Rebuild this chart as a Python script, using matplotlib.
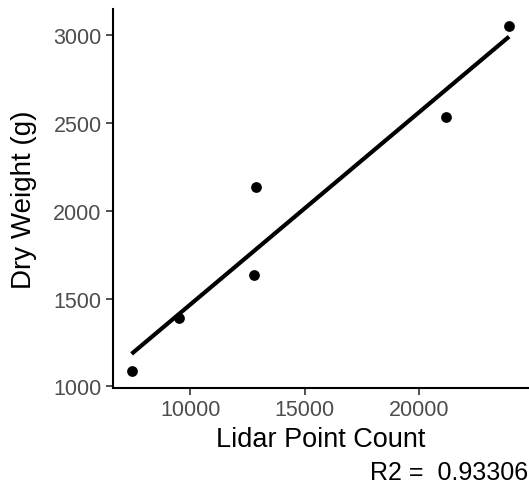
import matplotlib.pyplot as plt
import numpy as np

# data
point_count = [7430, 9510, 12780, 12890, 21200, 23940]
dry_weight = [1088, 1390, 1632, 2138, 2537, 3053]
x_ticks = [10000, 15000, 20000]
y_ticks = [1000, 1500, 2000, 2500, 3000]
r2_label = "R2 =  0.93306"

plt.rcParams['font.family'] = ['Liberation Sans', 'DejaVu Sans']

x = np.array(point_count, dtype=float)
y = np.array(dry_weight, dtype=float)

fig = plt.figure(figsize=(5.29, 4.89), dpi=100)
ax = fig.add_axes([0.213, 0.204, 0.785, 0.776])

# linear fit, like geom_smooth(method = "lm", se = FALSE)
slope, intercept = np.polyfit(x, y, 1)
xs = np.linspace(x.min(), x.max(), 50)
ax.plot(xs, slope * xs + intercept, color='black', lw=3.0, solid_capstyle='butt')
ax.scatter(x, y, s=60, color='black', zorder=3, linewidths=0)

# ggplot style 5% expansion
xr = x.max() - x.min()
yr = y.max() - y.min()
ax.set_xlim(x.min() - 0.05 * xr, x.max() + 0.05 * xr)
ax.set_ylim(y.min() - 0.05 * yr, y.max() + 0.05 * yr)

ax.set_xticks(x_ticks)
ax.set_yticks(y_ticks)
ax.tick_params(axis='both', labelsize=15.5, labelcolor='#4D4D4D', color='#333333',
               length=5, width=1.2, pad=3)

for side in ['top', 'right']:
    ax.spines[side].set_visible(False)
for side in ['left', 'bottom']:
    ax.spines[side].set_linewidth(1.5)

ax.set_xlabel('Lidar Point Count', fontsize=19.5, color='black', labelpad=4)
ax.set_ylabel('Dry Weight (g)', fontsize=20, color='black', labelpad=12)

fig.text(0.998, 0.008, r2_label, ha='right', va='bottom', fontsize=18, color='black')

fig.savefig('out.png', dpi=100)
